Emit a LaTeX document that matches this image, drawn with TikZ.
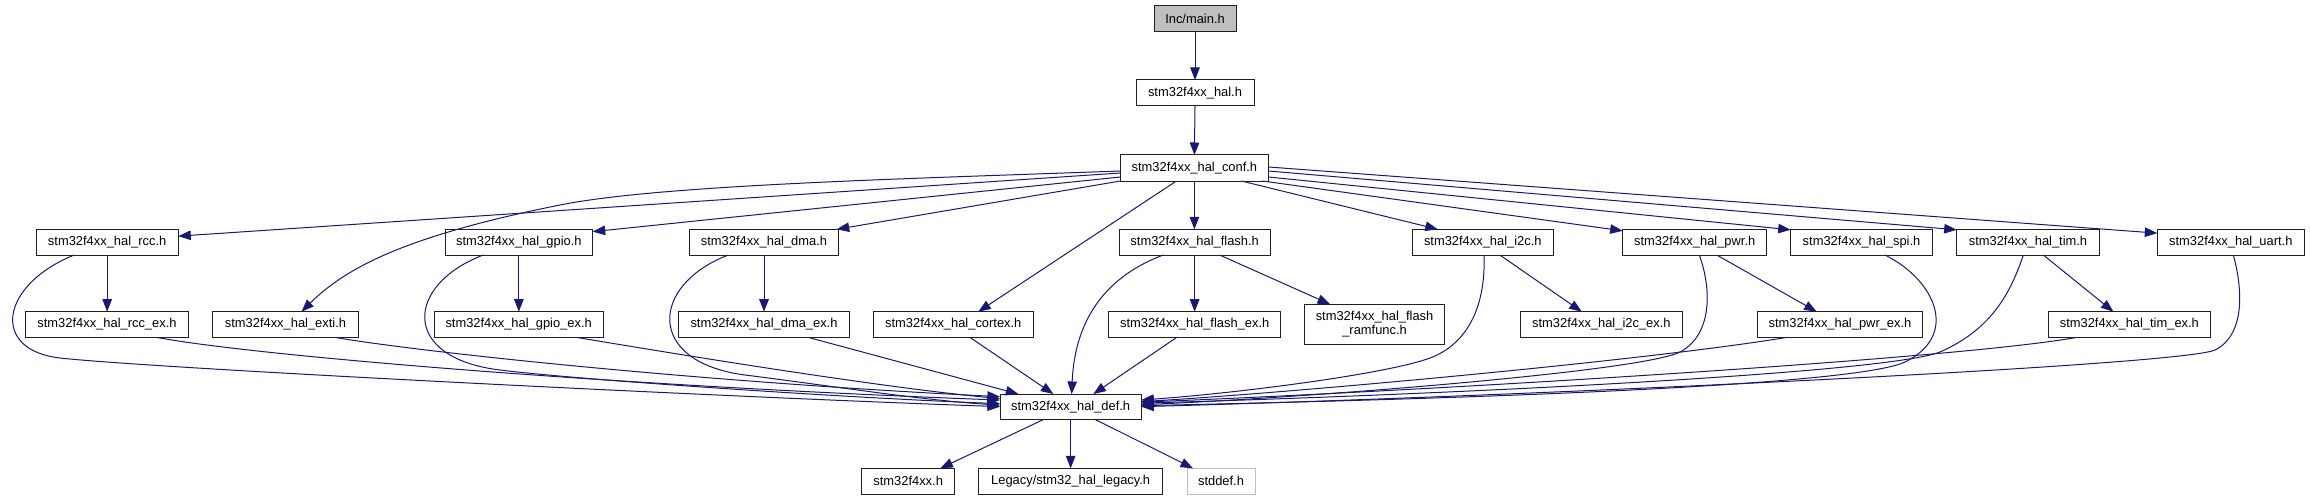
\documentclass[tikz,border=0pt]{standalone}
\usepackage{fontspec}
\setmainfont{Liberation Sans}
\usetikzlibrary{arrows.meta,calc}
\definecolor{edgeblue}{HTML}{191970}
\definecolor{greyseventyfive}{HTML}{BFBFBF}
\definecolor{boxline}{HTML}{202020}
\begin{document}
\begin{tikzpicture}[x=1pt,y=-1pt,
  box/.style={draw=boxline, fill=white, line width=1pt, inner sep=0pt, outer sep=0pt,
    anchor=north west, font=\fontsize{12.9}{13.6}\selectfont, align=center},
  rowbox/.style={box, minimum height=25.7pt},
  edge/.style={draw=edgeblue, line width=1pt, -{Triangle[length=12.5pt,width=9.5pt]}}]
\useasboundingbox[fill=white] (0,0) rectangle (2310,500);

% nodes
\node[box, minimum width=82pt, minimum height=26pt, fill=greyseventyfive] (main) at (1154,6) {Inc/main.h};
\node[box, minimum width=118pt, minimum height=26pt] (hal) at (1136,80) {stm32f4xx\_hal.h};
\node[box, minimum width=148pt, minimum height=26pt] (conf) at (1120.4,155) {stm32f4xx\_hal\_conf.h};

\node[rowbox, minimum width=142.3pt] (rcc) at (36,229.3) {stm32f4xx\_hal\_rcc.h};
\node[rowbox, minimum width=147.7pt] (gpio) at (445,229.3) {stm32f4xx\_hal\_gpio.h};
\node[rowbox, minimum width=149.4pt] (dma) at (689.3,229.3) {stm32f4xx\_hal\_dma.h};
\node[rowbox, minimum width=150.7pt] (flash) at (1119.3,229.3) {stm32f4xx\_hal\_flash.h};
\node[rowbox, minimum width=141pt] (i2c) at (1412.3,229.3) {stm32f4xx\_hal\_i2c.h};
\node[rowbox, minimum width=144pt] (pwr) at (1622.7,229.3) {stm32f4xx\_hal\_pwr.h};
\node[rowbox, minimum width=141.6pt] (spi) at (1790.7,229.3) {stm32f4xx\_hal\_spi.h};
\node[rowbox, minimum width=142.6pt] (tim) at (1956.7,229.3) {stm32f4xx\_hal\_tim.h};
\node[rowbox, minimum width=147pt] (uart) at (2157.3,229.3) {stm32f4xx\_hal\_uart.h};

\node[rowbox, minimum width=162.6pt] (rccex) at (25.7,311.7) {stm32f4xx\_hal\_rcc\_ex.h};
\node[rowbox, minimum width=145.6pt] (exti) at (212.7,311.7) {stm32f4xx\_hal\_exti.h};
\node[rowbox, minimum width=169.3pt] (gpioex) at (434,311.7) {stm32f4xx\_hal\_gpio\_ex.h};
\node[rowbox, minimum width=170.6pt] (dmaex) at (678.7,311.7) {stm32f4xx\_hal\_dma\_ex.h};
\node[rowbox, minimum width=160pt] (cortex) at (873.3,311.7) {stm32f4xx\_hal\_cortex.h};
\node[rowbox, minimum width=172pt] (flashex) at (1108.7,311.7) {stm32f4xx\_hal\_flash\_ex.h};
\node[box, minimum width=139.7pt, minimum height=40pt] (ramfunc) at (1304.7,304.3) {stm32f4xx\_hal\_flash\\\_ramfunc.h};
\node[rowbox, minimum width=162.7pt] (i2cex) at (1520,311.7) {stm32f4xx\_hal\_i2c\_ex.h};
\node[rowbox, minimum width=165.4pt] (pwrex) at (1757.3,311.7) {stm32f4xx\_hal\_pwr\_ex.h};
\node[rowbox, minimum width=162.7pt] (timex) at (2048,311.7) {stm32f4xx\_hal\_tim\_ex.h};

\node[box, minimum width=141.3pt, minimum height=25.3pt] (def) at (1000,394) {stm32f4xx\_hal\_def.h};

\node[rowbox, minimum width=92.9pt] (fxx) at (861.7,468.3) {stm32f4xx.h};
\node[rowbox, minimum width=184.2pt] (legacy) at (978.6,468.3) {Legacy/stm32\_hal\_legacy.h};
\node[rowbox, minimum width=68pt, draw=greyseventyfive] (stddef) at (1187,468.3) {stddef.h};

% top chain
\draw[edge] (main.south) -- (hal.north);
\draw[edge] (hal.south) -- (conf.north);

% conf -> row 2 / exti / cortex
\draw[edge] ($(conf.west)+(0,5)$) -- ($(rcc.east)+(0,-6)$);
\draw[edge] ($(conf.west)+(0,3)$) .. controls (900,179) and (660,185) .. (560,205)
   .. controls (410,235) and (347.6,266) .. ($(exti.north)+(16,0)$);
\draw[edge] ($(conf.west)+(0,9)$) -- ($(gpio.east)+(0,-10.5)$);
\draw[edge] (conf.south west) -- ($(dma.north east)+(-2,0)$);
\draw[edge] ($(conf.south)+(-18,0)$) -- ($(cortex.north)+(25,0)$);
\draw[edge] (conf.south) -- (conf.south |- flash.north);
\draw[edge] ($(conf.south)+(47,0)$) -- ($(i2c.north)+(-45,0)$);
\draw[edge] ($(conf.south east)+(-6,0)$) -- ($(pwr.north west)+(0,1.5)$);
\draw[edge] ($(conf.east)+(0,9)$) -- ($(spi.north west)+(0,0.5)$);
\draw[edge] ($(conf.east)+(0,3)$) -- ($(tim.north west)+(0,0.5)$);
\draw[edge] ($(conf.east)+(0,-1)$) -- ($(uart.west)+(0,-9)$);

% row 2 -> row 3
\draw[edge] (rcc.south) -- (rcc.south |- rccex.north);
\draw[edge] (gpio.south) -- (gpio.south |- gpioex.north);
\draw[edge] (dma.south) -- (dma.south |- dmaex.north);
\draw[edge] (flash.south) -- (flash.south |- flashex.north);
\draw[edge] ($(flash.south)+(25,0)$) -- ($(ramfunc.north)+(-44.5,0)$);
\draw[edge] ($(i2c.south)+(17,0)$) -- ($(i2cex.north)+(-19.6,0)$);
\draw[edge] ($(pwr.south)+(22,0)$) -- ($(pwrex.north)+(-23.3,0)$);
\draw[edge] ($(tim.south)+(15.3,0)$) -- ($(timex.north)+(-16,0)$);

% into def, left side
\draw[edge] ($(rcc.south)+(-33,0)$) .. controls (0,285) and (-10,350) .. (60,358)
   .. controls (150,368) and (700,396) .. (def.west);
\draw[edge] ($(rccex.south)+(49.7,0)$) .. controls (250,355) and (600,385) .. ($(def.west)+(0,-6.6)$);
\draw[edge] ($(exti.south)+(49.5,0)$) .. controls (420,352) and (700,382) .. ($(def.west)+(0,-10)$);
\draw[edge] ($(gpio.south)+(-35.6,0)$) .. controls (405,285) and (400,358) .. (500,370)
   .. controls (580,380) and (850,398) .. ($(def.west)+(0,-3)$);
\draw[edge] ($(gpioex.south)+(58,0)$) .. controls (700,358) and (880,387) .. ($(def.west)+(0,-8)$);
\draw[edge] ($(dma.south)+(-35.7,0)$) .. controls (650,285) and (645,362) .. (745,375)
   .. controls (825,385) and (920,400) .. ($(def.west)+(0,-1.5)$);
\draw[edge] ($(dmaex.south)+(44.3,0)$) -- ($(def.north west)+(18.3,0)$);
\draw[edge] ($(cortex.south)+(16.7,0)$) -- ($(def.north)+(-17.3,0)$);
\draw[edge] ($(flash.south)+(-31.4,0)$) .. controls (1110,275) and (1075,315) .. ($(def.north)+(1,0)$);
\draw[edge] ($(flashex.south)+(-18,0)$) -- ($(def.north)+(22.7,0)$);

% into def, right side
\draw[edge] ($(i2c.south)+(1.2,0)$) .. controls (1486,310) and (1465,345) .. (1430,358)
   .. controls (1390,373) and (1250,392) .. ($(def.east)+(0,-6.6)$);
\draw[edge] ($(pwr.south)+(4.6,0)$) .. controls (1712,290) and (1712,335) .. (1680,352)
   .. controls (1640,372) and (1300,398) .. ($(def.east)+(0,-2)$);
\draw[edge] ($(pwrex.south)+(-53.3,0)$) .. controls (1650,360) and (1300,392) .. ($(def.east)+(0,-5)$);
\draw[edge] ($(spi.south)+(23.5,0)$) .. controls (1935,280) and (1960,335) .. (1905,362)
   .. controls (1865,381) and (1600,396) .. ($(def.east)+(0,-1)$);
\draw[edge] ($(tim.south)+(-4.7,0)$) .. controls (2010,295) and (1990,330) .. (1940,352)
   .. controls (1880,375) and (1400,396) .. ($(def.east)+(0,-3.5)$);
\draw[edge] ($(timex.south)+(-52.6,0)$) .. controls (1950,360) and (1400,392) .. ($(def.east)+(0,-4.5)$);
\draw[edge] ($(uart.south)+(2.5,0)$) .. controls (2243,290) and (2245,335) .. (2215,350)
   .. controls (2180,366) and (1500,397) .. (def.east);

% def -> bottom row
\draw[edge] ($(def.south)+(-26.7,0)$) -- ($(fxx.north)+(32.2,0)$);
\draw[edge] (def.south) -- (def.south |- legacy.north);
\draw[edge] ($(def.south)+(24.3,0)$) -- ($(stddef.north)+(-28,0)$);
\end{tikzpicture}
\end{document}
